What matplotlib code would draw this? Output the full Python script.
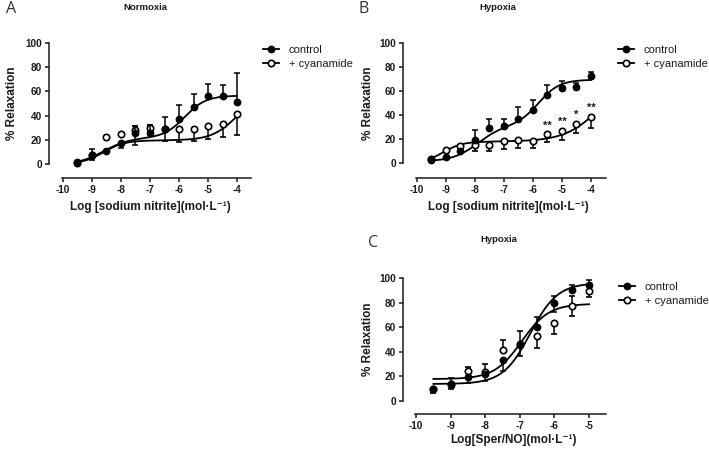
import numpy as np
import matplotlib.pyplot as plt
from matplotlib.lines import Line2D

plt.rcParams['font.family'] = ['Liberation Sans', 'DejaVu Sans']
plt.rcParams['axes.unicode_minus'] = False

# --- data ---
dose_nitrite = [-9.5, -9, -8.5, -8, -7.5, -7, -6.5, -6, -5.5, -5, -4.5, -4]
dose_spernO = [-9.5, -9, -8.5, -8, -7.5, -7, -6.5, -6, -5.5, -5]

# A: normoxia, sodium nitrite
a_ctrl = [1.5, 7.5, 10.5, 17, 26, 25.5, 29, 37.5, 47, 56, 56.5, 51]
a_ctrl_hi = [0, 5, 0, 0, 5, 6.5, 9.5, 11.5, 10.5, 10, 9, 24.5]
a_ctrl_lo = [0, 0, 0, 4, 10, 0, 0, 0, 0, 0, 0, 0]
a_cyan = [0.5, 7, 22, 24.5, 28, 29.5, 28.5, 28.7, 28.7, 31, 33, 41]
a_cyan_hi = [0, 0, 0, 0, 3, 2.5, 0, 0, 0, 0, 0, 0]
a_cyan_lo = [0, 3.5, 0, 0, 0, 0, 9.5, 10.5, 9.5, 10, 11, 17]

# B: hypoxia, sodium nitrite
b_ctrl = [3, 5.5, 10, 19.5, 29, 31, 37, 44, 57, 62.5, 63, 72.5]
b_ctrl_hi = [0, 0, 0, 8.5, 8, 6, 10, 9, 8, 5.5, 4, 3.5]
b_ctrl_lo = [0] * 12
b_cyan = [3.5, 11, 14.5, 15.5, 15.5, 18.5, 19.5, 18.5, 24, 27, 32.5, 38.5]
b_cyan_hi = [0] * 12
b_cyan_lo = [0, 0, 0, 5.5, 5.5, 6.5, 7, 5.5, 6.5, 7.5, 7, 9]
b_stars = ['', '', '', '', '', '', '', '', '**', '**', '*', '**']

# C: hypoxia, spermine NONOate
c_ctrl = [9, 13, 19, 22, 33, 45, 60, 79.5, 90, 94.5]
c_ctrl_hi = [0, 0, 0, 0, 0, 0, 8.5, 6, 4, 4]
c_ctrl_lo = [2, 4, 5, 6, 9, 9, 0, 7, 0, 0]
c_cyan = [9.5, 13.5, 24, 23.5, 41, 46.5, 53, 63, 77, 89]
c_cyan_hi = [0, 5, 3, 6.5, 8, 10, 0, 0, 8, 0]
c_cyan_lo = [3, 0, 0, 0, 0, 0, 10, 9, 8, 4.5]

# fitted curve parameters (bottom, span1, logEC1, hill1, span2, logEC2, hill2)
a_ctrl_fit = (-0.5, 22, -8.6, 1.0, 35, -5.8, 1.2)
a_cyan_fit = (0, 19.5, -8.6, 1.2, 40, -4.0, 1.0)
b_ctrl_fit = (1.5, 30, -7.9, 1.0, 38, -5.8, 1.2)
b_cyan_fit = (0, 18, -9.1, 1.3, 60, -3.6, 0.7)
c_ctrl_fit = (13.5, 82.5, -6.7, 1.1, 0, -5, 1)
c_cyan_fit = (17.5, 61.5, -6.95, 1.1, 0, -5, 1)


def biphasic(x, bottom, s1, ec1, h1, s2, ec2, h2):
    return (bottom + s1 / (1 + 10 ** ((ec1 - x) * h1))
            + s2 / (1 + 10 ** ((ec2 - x) * h2)))


W, H = 709, 450
fig = plt.figure(figsize=(W / 100, H / 100), dpi=100)
txt = '#1a1a1a'
MS = 4.6


def make_ax(left, right, top, bottom, xlim, ylim, ticks, spine_end):
    ax = fig.add_axes([left / W, 1 - bottom / H, (right - left) / W, (bottom - top) / H])
    ax.set_xlim(*xlim)
    ax.set_ylim(*ylim)
    for s in ['top', 'right']:
        ax.spines[s].set_visible(False)
    ax.spines['left'].set_bounds(0, 100)
    ax.spines['bottom'].set_bounds(-10.02, spine_end)
    for s in ['left', 'bottom']:
        ax.spines[s].set_linewidth(1.1)
        ax.spines[s].set_color(txt)
    ax.set_yticks(range(0, 101, 20))
    ax.set_xticks(ticks)
    ax.tick_params(direction='out', length=3, width=1.1, labelsize=7.2, colors=txt, pad=2)
    for lab in ax.get_xticklabels() + ax.get_yticklabels():
        lab.set_fontweight('bold')
    return ax


def draw(ax, x, ctrl, clo, chi, cyan, ylo, yhi, cfit, yfit, xmax):
    xs = np.linspace(-9.5, xmax, 300)
    ax.plot(xs, biphasic(xs, *cfit), color='black', lw=1.3, zorder=2)
    ax.plot(xs, biphasic(xs, *yfit), color='black', lw=1.3, zorder=2)
    ax.errorbar(x, cyan, yerr=[ylo, yhi], fmt='o', ms=MS, mfc='white', mec='black',
                mew=1.2, ecolor='black', elinewidth=1.1, capsize=2.5, capthick=1.1,
                clip_on=False, zorder=3)
    ax.errorbar(x, ctrl, yerr=[clo, chi], fmt='o', ms=MS, mfc='black', mec='black',
                ecolor='black', elinewidth=1.1, capsize=2.5, capthick=1.1,
                clip_on=False, zorder=4)


def legend(ax, x0, y0):
    h = [Line2D([], [], color='black', lw=1.3, marker='o', ms=MS, mfc='black', mec='black'),
         Line2D([], [], color='black', lw=1.3, marker='o', ms=MS, mfc='white', mec='black',
                mew=1.2)]
    ax.legend(h, ['control', '+ cyanamide'], loc='upper left',
              bbox_to_anchor=(x0 / W, 1 - y0 / H),
              bbox_transform=fig.transFigure, frameon=False, fontsize=8,
              handlelength=1.4, handletextpad=0.9, labelspacing=0.35,
              borderpad=0, borderaxespad=0, labelcolor=txt)


lab_kw = dict(fontsize=8.5, fontweight='bold', color=txt)

# panel A
axA = make_ax(49, 251, 43, 178, (-10.48, -3.52), (-11.6, 100), range(-10, -3), -3.52)
draw(axA, dose_nitrite, a_ctrl, a_ctrl_lo, a_ctrl_hi, a_cyan, a_cyan_lo, a_cyan_hi,
     a_ctrl_fit, a_cyan_fit, -4)
legend(axA, 263, 45)
axA.set_ylabel('% Relaxation', **lab_kw)
axA.yaxis.set_label_coords(-0.155, 0.555)
axA.set_xlabel('Log [sodium nitrite](mol·L⁻¹)', **lab_kw)
axA.xaxis.set_label_coords(0.5, -0.17)

# panel B
axB = make_ax(403, 606, 43, 178, (-10.48, -3.48), (-12.3, 100), range(-10, -3), -3.48)
draw(axB, dose_nitrite, b_ctrl, b_ctrl_lo, b_ctrl_hi, b_cyan, b_cyan_lo, b_cyan_hi,
     b_ctrl_fit, b_cyan_fit, -4)
legend(axB, 618, 45)
for xv, yv, s in zip(dose_nitrite, b_cyan, b_stars):
    if s:
        axB.text(xv, yv + 7.5, s, ha='center', va='center', fontsize=8,
                 fontweight='bold', color=txt)
axB.set_ylabel('% Relaxation', **lab_kw)
axB.yaxis.set_label_coords(-0.145, 0.555)
axB.set_xlabel('Log [sodium nitrite](mol·L⁻¹)', **lab_kw)
axB.xaxis.set_label_coords(0.517, -0.17)

# panel C
axC = make_ax(403, 606, 278, 414, (-10.38, -4.51), (-11, 100), range(-10, -4), -4.51)
draw(axC, dose_spernO, c_ctrl, c_ctrl_lo, c_ctrl_hi, c_cyan, c_cyan_lo, c_cyan_hi,
     c_ctrl_fit, c_cyan_fit, -5)
legend(axC, 619, 282)
axC.set_ylabel('% Relaxation', **lab_kw)
axC.yaxis.set_label_coords(-0.142, 0.55)
axC.set_xlabel('Log[Sper/NO](mol·L⁻¹)', **lab_kw)
axC.xaxis.set_label_coords(0.542, -0.15)

# titles and panel letters
for x, y, t in [(145, 7, 'Normoxia'), (498, 7, 'Hypoxia'), (499, 239, 'Hypoxia')]:
    fig.text(x / W, 1 - y / H, t, ha='center', va='center', fontsize=6.8,
             fontweight='bold', color=txt)
for x, y, t in [(11, 9, 'A'), (364, 9, 'B'), (373, 243, 'C')]:
    fig.text(x / W, 1 - y / H, t, ha='center', va='center', fontsize=11.5,
             family=['Open Sans', 'DejaVu Sans'], color='#333333')

fig.savefig('out.png', dpi=100)
